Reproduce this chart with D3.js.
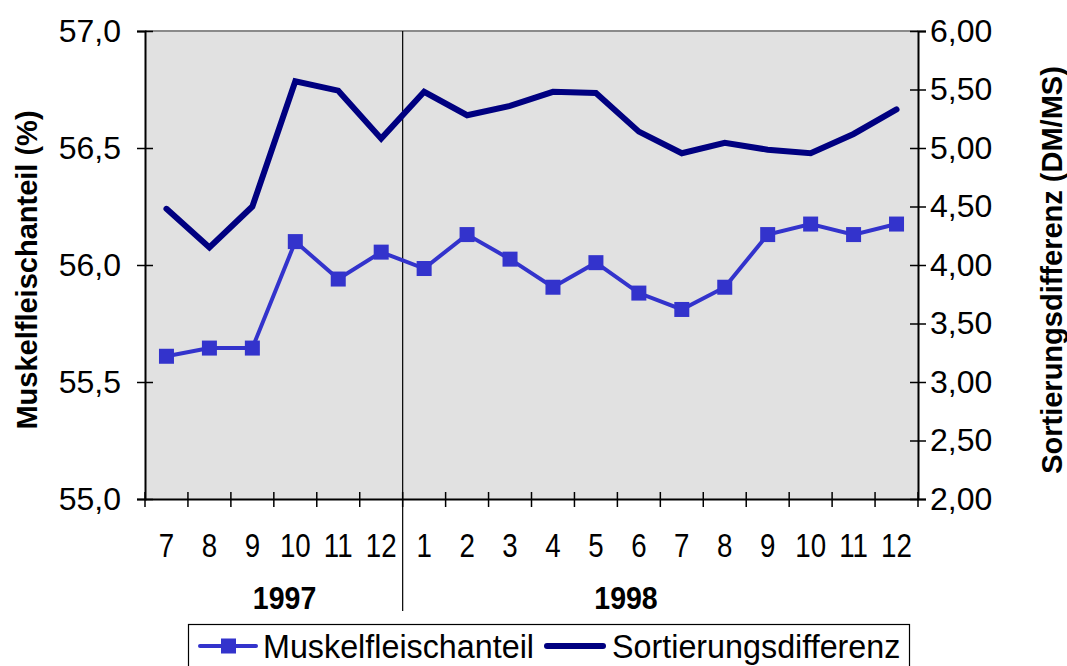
<!DOCTYPE html>
<html>
<head>
<meta charset="utf-8">
<script src="https://cdn.jsdelivr.net/npm/d3@7"></script>
<style>
  body { margin: 0; background: #fff; }
  svg text { font-family: "Liberation Sans", Arial, sans-serif; fill: #000; }
</style>
</head>
<body>
<div id="chart"></div>
<script>
// data
var months = ['7', '8', '9', '10', '11', '12', '1', '2', '3', '4', '5', '6', '7', '8', '9', '10', '11', '12'];
var years = ['1997', '1997', '1997', '1997', '1997', '1997',
             '1998', '1998', '1998', '1998', '1998', '1998', '1998', '1998', '1998', '1998', '1998', '1998'];
var muskelfleisch = [55.61, 55.645, 55.645, 56.10, 55.94, 56.055, 55.985, 56.13, 56.025,
                     55.905, 56.01, 55.88, 55.81, 55.905, 56.13, 56.175, 56.13, 56.175];
var sortierung = [4.48, 4.15, 4.50, 5.57, 5.49, 5.08, 5.48, 5.28, 5.36,
                  5.48, 5.47, 5.14, 4.955, 5.045, 4.985, 4.955, 5.12, 5.33];
var leftTicks = [55.0, 55.5, 56.0, 56.5, 57.0];
var rightTicks = [2.0, 2.5, 3.0, 3.5, 4.0, 4.5, 5.0, 5.5, 6.0];

var width = 1067, height = 666;
var plot = { left: 145, right: 918, top: 31, bottom: 499 };

var svg = d3.select('#chart').append('svg')
    .attr('width', width)
    .attr('height', height);

var idx = d3.range(months.length);
var x = d3.scaleBand().domain(idx).range([plot.left, plot.right]).padding(0);
var yL = d3.scaleLinear().domain([55, 57]).range([plot.bottom, plot.top]);
var yR = d3.scaleLinear().domain([2, 6]).range([plot.bottom, plot.top]);
var cx = function(i) { return x(i) + x.bandwidth() / 2; };

// plot area
svg.append('rect')
    .attr('x', plot.left).attr('y', plot.top)
    .attr('width', plot.right - plot.left).attr('height', plot.bottom - plot.top)
    .attr('fill', '#e1e1e1');
svg.append('line')
    .attr('x1', plot.left).attr('x2', plot.right)
    .attr('y1', plot.top).attr('y2', plot.top)
    .attr('stroke', '#8a8a8a').attr('stroke-width', 2);

// year divider
var yearStart = idx.filter(function(i) { return i > 0 && years[i] !== years[i - 1]; });
yearStart.forEach(function(i) {
    svg.append('line')
        .attr('x1', x(i)).attr('x2', x(i))
        .attr('y1', plot.top).attr('y2', 611)
        .attr('stroke', '#000').attr('stroke-width', 1.2);
});

// left axis
var leftAxis = svg.append('g')
    .attr('transform', 'translate(' + plot.left + ',0)')
    .call(d3.axisLeft(yL).tickValues(leftTicks).tickSize(8)
        .tickFormat(function(d) { return d3.format('.1f')(d).replace('.', ','); }));
leftAxis.select('.domain').attr('stroke', '#000').attr('stroke-width', 2);
leftAxis.selectAll('.tick line').attr('x2', -8).attr('x1', 8).attr('stroke', '#000').attr('stroke-width', 1.5);
leftAxis.selectAll('text').style('font-size', '32px').attr('x', -24);

// right axis
var rightAxis = svg.append('g')
    .attr('transform', 'translate(' + plot.right + ',0)')
    .call(d3.axisRight(yR).tickValues(rightTicks).tickSize(8)
        .tickFormat(function(d) { return d3.format('.2f')(d).replace('.', ','); }));
rightAxis.select('.domain').attr('stroke', '#000').attr('stroke-width', 2);
rightAxis.selectAll('.tick line').attr('x1', -8).attr('x2', 8).attr('stroke', '#000').attr('stroke-width', 1.5);
rightAxis.selectAll('text').style('font-size', '32px').attr('x', 12);

// bottom axis
var bottomAxis = svg.append('g')
    .attr('transform', 'translate(0,' + plot.bottom + ')')
    .call(d3.axisBottom(x).tickSize(0).tickFormat(function(i) { return months[i]; }));
bottomAxis.select('.domain').attr('stroke', '#000').attr('stroke-width', 2);
bottomAxis.selectAll('text')
    .style('font-size', '33px')
    .attr('dy', null)
    .attr('y', 58)
    .attr('transform', 'scale(0.84,1)');
d3.range(months.length + 1).forEach(function(i) {
    var px = plot.left + i * x.bandwidth();
    svg.append('line')
        .attr('x1', px).attr('x2', px)
        .attr('y1', plot.bottom - 7).attr('y2', plot.bottom + 8)
        .attr('stroke', '#000').attr('stroke-width', 1.5);
});

// year labels
var yearNames = ['1997', '1998'];
var yearPos = [3.25, 11.2]; // in category units, as placed in the original
yearNames.forEach(function(yr, k) {
    svg.append('text')
        .attr('transform', 'translate(' + (plot.left + yearPos[k] * x.bandwidth()) + ',609) scale(0.92,1)')
        .attr('text-anchor', 'middle')
        .style('font-size', '31px')
        .style('font-weight', 'bold')
        .text(yr);
});

// axis titles
svg.append('text')
    .attr('transform', 'translate(37,270) rotate(-90)')
    .attr('text-anchor', 'middle')
    .style('font-size', '29px').style('font-weight', 'bold')
    .text('Muskelfleischanteil (%)');
svg.append('text')
    .attr('transform', 'translate(1062,270) rotate(-90)')
    .attr('text-anchor', 'middle')
    .style('font-size', '29px').style('font-weight', 'bold')
    .text('Sortierungsdifferenz (DM/MS)');

// Sortierungsdifferenz line
var lineR = d3.line().x(function(d, i) { return cx(i); }).y(function(d) { return yR(d); });
svg.append('path')
    .datum(sortierung)
    .attr('d', lineR)
    .attr('fill', 'none')
    .attr('stroke', '#000080')
    .attr('stroke-width', 6)
    .attr('stroke-linejoin', 'miter')
    .attr('stroke-linecap', 'round');

// Muskelfleischanteil line + markers
var lineL = d3.line().x(function(d, i) { return cx(i); }).y(function(d) { return yL(d); });
svg.append('path')
    .datum(muskelfleisch)
    .attr('d', lineL)
    .attr('fill', 'none')
    .attr('stroke', '#3333cc')
    .attr('stroke-width', 4);
svg.selectAll('rect.marker')
    .data(muskelfleisch)
    .enter().append('rect')
    .attr('class', 'marker')
    .attr('x', function(d, i) { return cx(i) - 7.5; })
    .attr('y', function(d) { return yL(d) - 7.5; })
    .attr('width', 15).attr('height', 15)
    .attr('fill', '#3333cc');

// legend
var legend = svg.append('g');
legend.append('rect')
    .attr('x', 188.5).attr('y', 624.5)
    .attr('width', 721).attr('height', 60)
    .attr('fill', '#fff').attr('stroke', '#000').attr('stroke-width', 1.2);
legend.append('line')
    .attr('x1', 200).attr('x2', 256).attr('y1', 646).attr('y2', 646)
    .attr('stroke', '#3333cc').attr('stroke-width', 4).attr('stroke-linecap', 'round');
legend.append('rect')
    .attr('x', 221).attr('y', 638.5).attr('width', 15).attr('height', 15)
    .attr('fill', '#3333cc');
legend.append('text')
    .attr('transform', 'translate(263,658) scale(0.95,1)')
    .style('font-size', '34px')
    .text('Muskelfleischanteil');
legend.append('line')
    .attr('x1', 547).attr('x2', 603).attr('y1', 646).attr('y2', 646)
    .attr('stroke', '#000080').attr('stroke-width', 6).attr('stroke-linecap', 'round');
legend.append('text')
    .attr('transform', 'translate(612,658) scale(0.95,1)')
    .style('font-size', '34px')
    .text('Sortierungsdifferenz');
</script>
</body>
</html>
